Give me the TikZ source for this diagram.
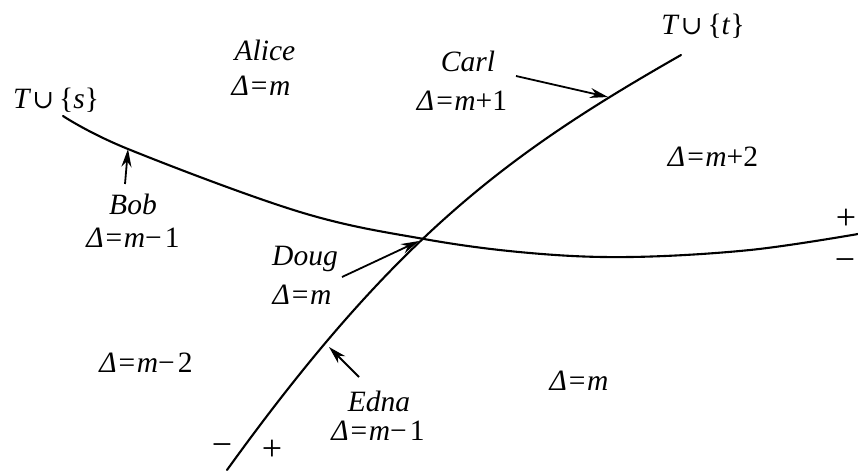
\documentclass[tikz,border=0pt]{standalone}
\usepackage{fontspec}
\setmainfont{Liberation Serif}
\newfontfamily\cupfont{DejaVu Serif}
\usetikzlibrary{arrows.meta}
\newcommand\dlab[1]{Δ\kern2pt\textup{=}\kern1.5pt m\textup{#1}}
\newcommand\mycup{{\cupfont\upshape\fontsize{26}{28}\selectfont ∪}}
\begin{document}
\begin{tikzpicture}[x=1pt,y=-1pt,
  lbl/.style={inner sep=0pt, font=\fontsize{29.5}{31}\selectfont\itshape},
  sgn/.style={inner sep=0pt, font=\fontsize{36}{38}\selectfont},
  curve/.style={line width=2.1pt, line cap=round},
  ptr/.style={line width=1.8pt, -{Stealth[length=18pt,width=10pt]}}]
\useasboundingbox (0,0) rectangle (858,474);

% curves
\draw[curve] plot[smooth, tension=0.6] coordinates {(63,116) (128,149) (300,212) (424,239) (530,253) (630,257) (750,250) (858,234)};
\draw[curve] (227,470) .. controls (397,234) and (511,152) .. (681,55);

% labels
\node[lbl] (ts) at (56,100) {T\kern3pt\mycup\kern5pt\textup{\{}s\textup{\}}};
\node[lbl] (tt) at (703,26) {T\kern3pt\mycup\kern5pt\textup{\{}t\textup{\}}};
\node[lbl] (alice) at (265,50) {Alice};
\node[lbl] (alicev) at (261,86) {\dlab{}};
\node[lbl] (carl) at (468,61) {Carl};
\node[lbl] (carlv) at (462,101) {\dlab{+1}};
\node[lbl] (r2) at (713,157) {\dlab{+2}};
\node[lbl] (bob) at (133,204) {Bob};
\node[lbl] (bobv) at (133,238) {\dlab{−\kern3pt 1}};
\node[lbl] (doug) at (305,259) {Doug};
\node[lbl] (dougv) at (302,295) {\dlab{}};
\node[lbl] (r3) at (146,363) {\dlab{−\kern3pt 2}};
\node[lbl] (edna) at (379,401) {Edna};
\node[lbl] (ednav) at (378,431) {\dlab{−\kern3pt 1}};
\node[lbl] (r4) at (579,381) {\dlab{}};

% signs
\node[sgn] (sm1) at (222,450) {−};
\node[sgn] (sp1) at (272,450) {+};
\node[sgn] (sp2) at (846,219) {+};
\node[sgn] (sm2) at (845,265) {−};

% arrows
\coordinate (bobt) at (125,184);
\coordinate (bobh) at (128,149);
\coordinate (carlt) at (516,76);
\coordinate (carlh) at (608,97);
\coordinate (dougt) at (342,277);
\coordinate (dough) at (419,241);
\coordinate (ednat) at (359,377);
\coordinate (ednah) at (329,347);
\draw[ptr] (bobt) -- (bobh);
\draw[ptr] (carlt) -- (carlh);
\draw[ptr] (dougt) -- (dough);
\draw[ptr] (ednat) -- (ednah);
\end{tikzpicture}
\end{document}
